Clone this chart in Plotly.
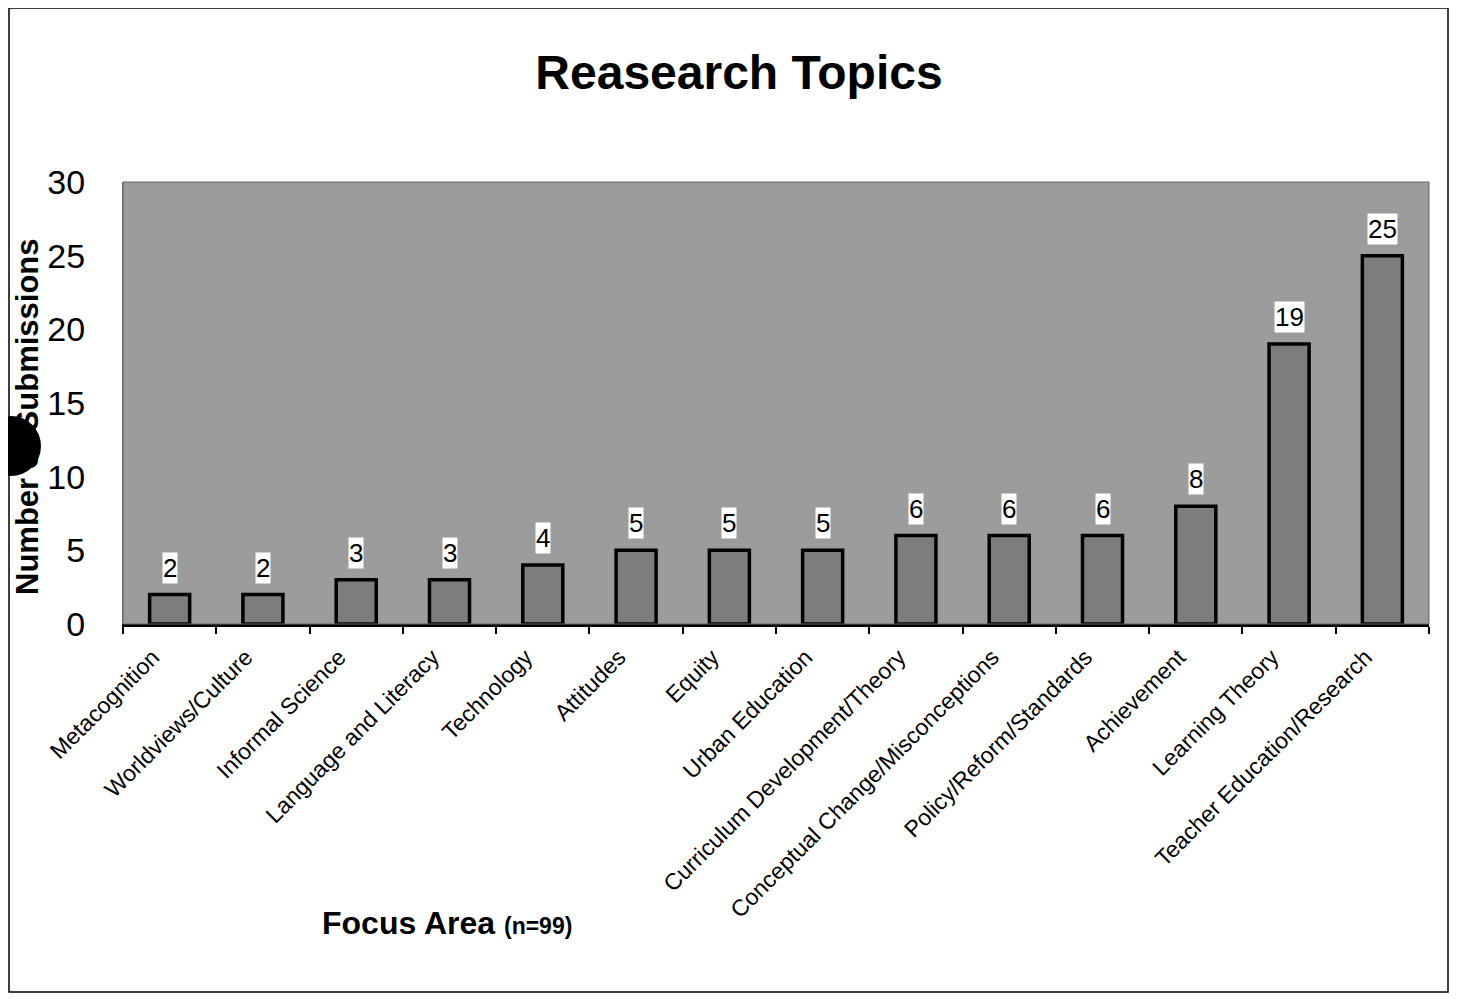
import plotly.graph_objects as go

categories = ["Metacognition", "Worldviews/Culture", "Informal Science", "Language and Literacy",
              "Technology", "Attitudes", "Equity", "Urban Education",
              "Curriculum Development/Theory", "Conceptual Change/Misconceptions",
              "Policy/Reform/Standards", "Achievement", "Learning Theory",
              "Teacher Education/Research"]
submissions = [2, 2, 3, 3, 4, 5, 5, 5, 6, 6, 6, 8, 19, 25]
y_ticks = [0, 5, 10, 15, 20, 25, 30]

# the page body has an 8px margin; work in screen coordinates
OFF = 8
W, H = 1457 - OFF, 999 - OFF
PL, PR, PT, PB = 123, 1429, 182, 624      # plot area in screen px
L, R, T, B = PL - OFF, W - (PR - OFF), PT - OFF, H - (PB - OFF)
pw, ph = PR - PL, PB - PT

def px_x(sx):
    return (sx - PL) / pw

def px_y(sy):
    return (PB - sy) / ph

FONT = "Liberation Sans, Arial"

fig = go.Figure()
fig.add_trace(go.Bar(
    x=categories, y=submissions,
    marker=dict(color="#7d7d7d", line=dict(color="black", width=3.5)),
    showlegend=False, hoverinfo="x+y",
))

for c, v in zip(categories, submissions):
    fig.add_annotation(x=c, y=v, xref="x", yref="y", text=str(v), showarrow=False,
                       yanchor="bottom", yshift=11, bgcolor="white", borderpad=0,
                       font=dict(family=FONT, size=26, color="black"))

fig.update_layout(
    width=W, height=H,
    margin=dict(l=L, r=R, t=T, b=B),
    paper_bgcolor="white",
    plot_bgcolor="#9c9c9c",
    bargap=0.571,
    font=dict(family=FONT, color="black"),
    title=dict(text="<b>Reasearch Topics</b>", x=(739 - OFF) / W, xanchor="center",
               y=1 - (72 - OFF) / H, yanchor="middle",
               font=dict(family=FONT, size=48, color="black")),
    xaxis=dict(
        type="category", tickangle=-45, tickson="boundaries", ticks="outside", ticklen=7,
        tickwidth=1.5, tickcolor="black", showline=True, linecolor="black", linewidth=2.5,
        showgrid=False, tickfont=dict(size=23, color="black"),
        ticklabelshift=-17, ticklabelstandoff=8,
    ),
    yaxis=dict(
        range=[0, 30], tickvals=y_ticks, ticks="", showgrid=False, zeroline=False,
        showline=True, linecolor="#666666", linewidth=1,
        tickfont=dict(size=34, color="black"), ticklabelstandoff=30,
    ),
)

# Y-axis title
fig.add_annotation(xref="paper", yref="paper", x=px_x(27), y=px_y(417), textangle=-90,
                   text="<b>Number of Submissions</b>", showarrow=False,
                   font=dict(size=31, color="black"), xanchor="center", yanchor="middle")

# X-axis title
fig.add_annotation(xref="paper", yref="paper", x=px_x(320), y=px_y(923), xanchor="left",
                   yanchor="middle", showarrow=False,
                   text="<b>Focus Area</b> <b><span style='font-size:23px'>(n=99)</span></b>",
                   font=dict(size=32, color="black"))

# Plot area border
fig.add_shape(type="rect", xref="paper", yref="paper", x0=0, y0=0, x1=1, y1=1,
              line=dict(color="#666666", width=1), layer="above")

# Outer page border
fig.add_shape(type="rect", xref="paper", yref="paper",
              x0=px_x(9), x1=px_x(1448), y0=px_y(992), y1=px_y(8),
              line=dict(color="black", width=1.5))

# Scan blot
r = 30
fig.add_shape(type="circle", xref="paper", yref="paper",
              x0=px_x(11 - r), x1=px_x(11 + r), y0=px_y(446 + r), y1=px_y(446 - r),
              fillcolor="black", line=dict(color="black", width=0), layer="above")

fig.write_html("out.html")
